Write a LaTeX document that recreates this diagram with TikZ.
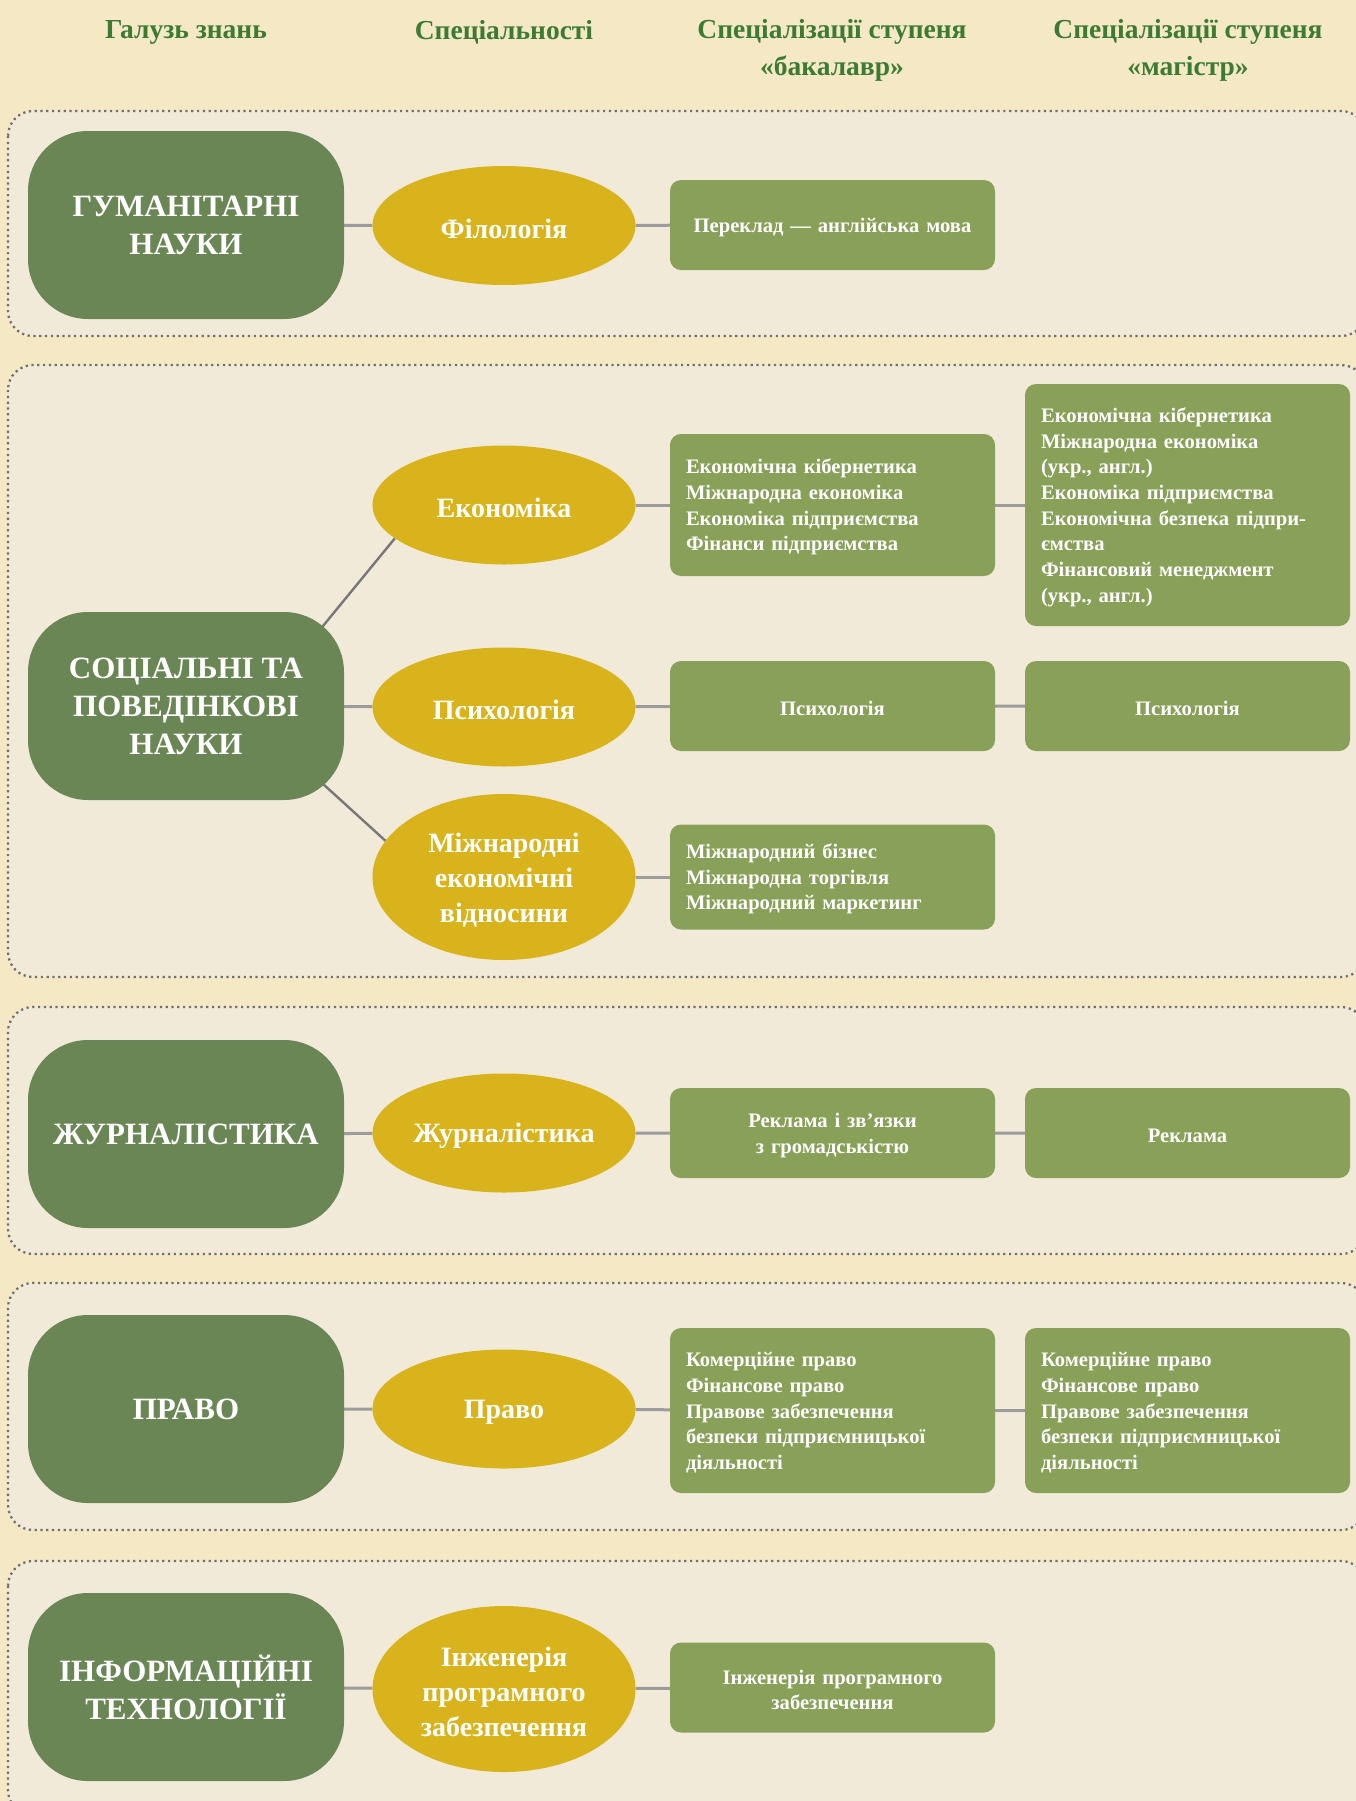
\documentclass[tikz,border=0pt]{standalone}
\usepackage{fontspec}
\setmainfont{Liberation Serif}
\usetikzlibrary{shapes.geometric,backgrounds,calc}

\definecolor{pagebg}{HTML}{F5E8C5}
\definecolor{bandbg}{HTML}{F1EAD9}
\definecolor{dotgray}{HTML}{707070}
\definecolor{fielddark}{HTML}{6A8655}
\definecolor{specyellow}{HTML}{D9B31B}
\definecolor{degreegreen}{HTML}{88A058}
\definecolor{headgreen}{HTML}{3D7A34}
\definecolor{linkgray}{HTML}{9C9C9C}
\definecolor{branchgray}{HTML}{777777}

\begin{document}
\begin{tikzpicture}[x=1pt,y=-1pt,
  field/.style={rounded corners=60pt, fill=fielddark, text=white, minimum width=316pt, minimum height=188pt, align=center, font=\bfseries\fontsize{31}{38}\selectfont},
  spec/.style={ellipse, fill=specyellow, text=white, minimum width=263pt, minimum height=119pt, inner sep=0pt, text width=186pt, align=center, execute at begin node={\rule{0pt}{0.92em}}, font=\bfseries\fontsize{28}{35}\selectfont},
  degree/.style={rounded corners=11pt, fill=degreegreen, text=white, minimum width=325pt, minimum height=90pt, inner xsep=16pt, text width=293pt, align=center, execute at begin node={\rule{0pt}{0.92em}}, font=\bfseries\fontsize{20.6}{25.7}\selectfont},
  degreelist/.style={degree, align=left},
  head/.style={text=headgreen, align=center, font=\bfseries\fontsize{27.5}{37}\selectfont},
  band/.style={fill=bandbg, draw=dotgray, line width=2.3pt, dash pattern=on 2.2pt off 3.6pt, rounded corners=25pt},
  link/.style={draw=linkgray, line width=3pt},
  branch/.style={draw=branchgray, line width=2.4pt}]
\useasboundingbox (0,0) rectangle (1356,1801);

% Column titles
\node[head] (hfield) at (186,32) {Галузь знань};
\node[head] (hspec) at (504,32) {Спеціальності};
\node[head] (hbach) at (832,50) {Спеціалізації ступеня\\«бакалавр»};
\node[head] (hmast) at (1188,50) {Спеціалізації ступеня\\«магістр»};

% Humanities
\node[field] (hum) at (186,225) {ГУМАНІТАРНІ\\НАУКИ};
\node[spec] (filol) at (504,225.5) {Філологія};
\node[degree] (bfilol) at (832.5,225) {Переклад — англійська мова};

% Social and behavioural sciences
\node[field] (soc) at (186,706) {СОЦІАЛЬНІ ТА\\ПОВЕДІНКОВІ\\НАУКИ};
\node[spec] (econ) at (504,505) {Економіка};
\node[spec] (psych) at (504,707) {Психологія};
\node[spec, minimum height=166pt] (intrel) at (504,877) {Міжнародні\\економічні\\відносини};
\node[degreelist, minimum height=142pt] (becon) at (832.5,505) {Економічна кібернетика\\Міжнародна економіка\\Економіка підприємства\\Фінанси підприємства};
\node[degreelist, minimum height=242pt] (mecon) at (1187.5,505) {Економічна кібернетика\\Міжнародна економіка\\(укр., англ.)\\Економіка підприємства\\Економічна безпека підпри-\\ємства\\Фінансовий менеджмент\\(укр., англ.)};
\node[degree] (bpsych) at (832.5,706) {Психологія};
\node[degree] (mpsych) at (1187.5,706) {Психологія};
\node[degreelist, minimum height=105pt] (bintrel) at (832.5,877) {Міжнародний бізнес\\Міжнародна торгівля\\Міжнародний маркетинг};

% Journalism
\node[field] (jour) at (186,1134) {ЖУРНАЛІСТИКА};
\node[spec] (journ) at (504,1133) {Журналістика};
\node[degree] (bjourn) at (832.5,1133) {Реклама і зв’язки\\з громадськістю};
\node[degree] (mjourn) at (1187.5,1133) {Реклама};

% Law
\node[field] (law) at (186,1409) {ПРАВО};
\node[spec] (pravo) at (504,1409) {Право};
\node[degreelist, minimum height=165pt] (bpravo) at (832.5,1410.5) {Комерційне право\\Фінансове право\\Правове забезпечення\\безпеки підприємницької\\діяльності};
\node[degreelist, minimum height=165pt] (mpravo) at (1187.5,1410.5) {Комерційне право\\Фінансове право\\Правове забезпечення\\безпеки підприємницької\\діяльності};

% Information technologies
\node[field] (it) at (186,1687) {ІНФОРМАЦІЙНІ\\ТЕХНОЛОГІЇ};
\node[spec, minimum height=166pt] (soft) at (504,1689) {Інженерія\\програмного\\забезпечення};
\node[degree] (bsoft) at (832.5,1687.5) {Інженерія програмного\\забезпечення};

% Hidden ends of the two slanted branches (behind the box)
\coordinate (socup) at ($(soc.north east)+(-44,42)$);
\coordinate (socdown) at ($(soc.south east)+(-44,-37)$);

\begin{scope}[on background layer]
% Page and dotted bands
\fill[pagebg] (0,0) rectangle (1356,1801);
\draw[band] (8,111) rectangle (1366,336);
\draw[band] (8,365) rectangle (1366,977);
\draw[band] (8,1007) rectangle (1366,1254);
\draw[band] (8,1283) rectangle (1366,1530);
\draw[band] (8,1561) rectangle (1366,1815);
% Connectors
\draw[link] (hum) -- (filol) -- (bfilol);
\draw[branch] (econ.197) -- (socup);
\draw[branch] (intrel.163) -- (socdown);
\draw[link] (econ) -- (becon) -- (mecon);
\draw[link] (soc) -- (psych) -- (bpsych) -- (mpsych);
\draw[link] (intrel) -- (bintrel);
\draw[link] (jour) -- (journ) -- (bjourn) -- (mjourn);
\draw[link] (law) -- (pravo) -- (bpravo) -- (mpravo);
\draw[link] (it) -- (soft) -- (bsoft);
\end{scope}
\end{tikzpicture}
\end{document}
